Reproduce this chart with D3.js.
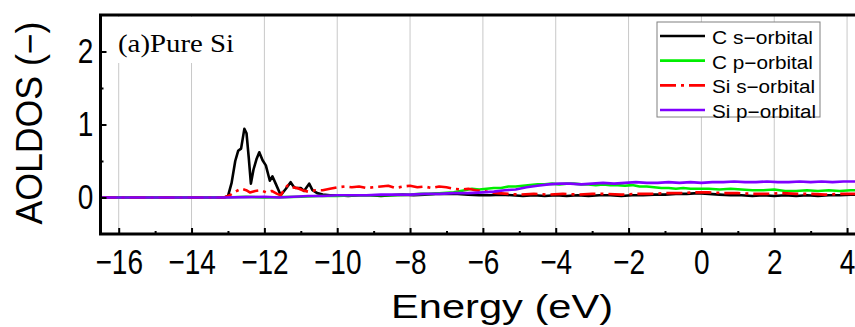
<!DOCTYPE html>
<html>
<head>
<meta charset="utf-8">
<script src="https://cdn.jsdelivr.net/npm/d3@7"></script>
<style>
  body { margin: 0; background: #fff; }
  svg { display: block; }
</style>
</head>
<body>
<svg id="chart" width="855" height="327"></svg>
<script>
// energy (eV) / AOLDOS pairs
let cS = [[-16.5,0],[-13.1,0],[-13.0,0.02],[-12.9,0.2],[-12.8,0.5],[-12.72,0.64],[-12.64,0.67],[-12.55,0.94],[-12.49,0.88],[-12.43,0.55],[-12.37,0.19],[-12.3,0.38],[-12.22,0.52],[-12.14,0.62],[-12.05,0.51],[-11.96,0.44],[-11.85,0.23],[-11.78,0.29],[-11.69,0.19],[-11.55,0.03],[-11.41,0.12],[-11.28,0.21],[-11.2,0.15],[-11.14,0.13],[-11.0,0.13],[-10.91,0.09],[-10.77,0.19],[-10.68,0.1],[-10.55,0.06],[-10.4,0.04],[-10.2,0.03],[-10,0.03],[-9.7,0.02],[-9.4,0.03],[-9.1,0.03],[-8.8,0.02],[-8.5,0.03],[-8.2,0.04],[-7.9,0.03],[-7.6,0.04],[-7.3,0.05],[-7.0,0.05],[-6.7,0.05],[-6.4,0.04],[-6.1,0.03],[-5.8,0.03],[-5.5,0.04],[-5.2,0.03],[-4.9,0.02],[-4.6,0.03],[-4.3,0.02],[-4.0,0.03],[-3.7,0.02],[-3.4,0.03],[-3.1,0.02],[-2.8,0.03],[-2.5,0.03],[-2.2,0.02],[-1.9,0.03],[-1.6,0.03],[-1.3,0.04],[-1.0,0.04],[-0.7,0.05],[-0.4,0.05],[-0.1,0.06],[0.2,0.05],[0.5,0.04],[0.8,0.03],[1.1,0.03],[1.4,0.02],[1.7,0.03],[2.0,0.02],[2.3,0.03],[2.6,0.02],[2.9,0.03],[3.2,0.02],[3.5,0.03],[3.8,0.03],[4.1,0.04],[4.3,0.04]];
let cP = [[-16.5,0],[-13.1,0],[-12.5,0.01],[-12,0.0],[-11.5,0.005],[-11,0.01],[-10.5,0.02],[-10,0.02],[-9.5,0.03],[-9,0.03],[-8.5,0.03],[-8,0.04],[-7.7,0.05],[-7.4,0.05],[-7.1,0.06],[-6.8,0.07],[-6.5,0.1],[-6.3,0.12],[-6.1,0.11],[-5.9,0.12],[-5.7,0.13],[-5.5,0.13],[-5.3,0.15],[-5.1,0.15],[-4.9,0.16],[-4.7,0.17],[-4.5,0.18],[-4.3,0.18],[-4.1,0.19],[-3.9,0.18],[-3.7,0.19],[-3.5,0.19],[-3.3,0.18],[-3.1,0.18],[-2.9,0.17],[-2.7,0.18],[-2.5,0.17],[-2.3,0.17],[-2.1,0.16],[-1.9,0.17],[-1.7,0.15],[-1.5,0.15],[-1.3,0.14],[-1.1,0.13],[-0.9,0.13],[-0.7,0.12],[-0.5,0.13],[-0.3,0.12],[-0.1,0.12],[0.2,0.12],[0.5,0.11],[0.8,0.12],[1.1,0.11],[1.4,0.1],[1.7,0.1],[2.0,0.11],[2.3,0.09],[2.6,0.09],[2.9,0.1],[3.2,0.09],[3.5,0.1],[3.8,0.09],[4.1,0.1],[4.3,0.1]];
let siS = [[-16.5,0],[-13.1,0],[-12.95,0.03],[-12.8,0.08],[-12.64,0.12],[-12.5,0.1],[-12.4,0.07],[-12.25,0.09],[-12.1,0.1],[-11.95,0.07],[-11.8,0.09],[-11.65,0.05],[-11.55,0.03],[-11.45,0.12],[-11.35,0.17],[-11.25,0.14],[-11.1,0.13],[-10.95,0.1],[-10.8,0.08],[-10.6,0.1],[-10.4,0.1],[-10.2,0.12],[-10.0,0.14],[-9.8,0.15],[-9.6,0.14],[-9.4,0.15],[-9.2,0.13],[-9.0,0.14],[-8.8,0.15],[-8.6,0.16],[-8.4,0.13],[-8.2,0.15],[-8.0,0.16],[-7.8,0.14],[-7.6,0.15],[-7.4,0.13],[-7.2,0.15],[-7.0,0.14],[-6.8,0.12],[-6.6,0.11],[-6.4,0.12],[-6.2,0.1],[-6.0,0.09],[-5.8,0.07],[-5.6,0.06],[-5.3,0.05],[-5.0,0.04],[-4.6,0.05],[-4.2,0.04],[-3.8,0.05],[-3.4,0.04],[-3.0,0.05],[-2.6,0.05],[-2.2,0.04],[-1.8,0.05],[-1.4,0.05],[-1.0,0.06],[-0.6,0.06],[-0.2,0.07],[0.2,0.07],[0.6,0.06],[1.0,0.06],[1.4,0.05],[1.8,0.05],[2.2,0.06],[2.6,0.05],[3.0,0.05],[3.4,0.04],[3.8,0.05],[4.3,0.05]];
let siP = [[-16.5,0],[-13.1,0],[-12.5,0.005],[-12,0.01],[-11.6,0.0],[-11.2,0.01],[-10.8,0.02],[-10.4,0.02],[-10,0.03],[-9.6,0.03],[-9.2,0.03],[-8.8,0.04],[-8.4,0.04],[-8.0,0.04],[-7.6,0.05],[-7.2,0.05],[-6.8,0.06],[-6.4,0.06],[-6.0,0.07],[-5.7,0.08],[-5.4,0.1],[-5.1,0.11],[-4.8,0.14],[-4.5,0.16],[-4.2,0.18],[-3.9,0.19],[-3.6,0.19],[-3.3,0.18],[-3.0,0.19],[-2.7,0.2],[-2.4,0.19],[-2.1,0.2],[-1.8,0.21],[-1.5,0.2],[-1.2,0.2],[-0.9,0.21],[-0.6,0.2],[-0.3,0.21],[0.0,0.2],[0.3,0.21],[0.6,0.21],[0.9,0.22],[1.2,0.21],[1.5,0.21],[1.8,0.22],[2.1,0.21],[2.4,0.21],[2.7,0.22],[3.0,0.21],[3.3,0.22],[3.6,0.21],[3.9,0.22],[4.3,0.22]];

let seriesNames = ["C s\u2212orbital", "C p\u2212orbital", "Si s\u2212orbital", "Si p\u2212orbital"];
let seriesColors = ["#000000", "#00ee00", "#ff0000", "#7f00ff"];
let xMajorTicks = [-16, -14, -12, -10, -8, -6, -4, -2, 0, 2, 4];
let xMinorTicks = [-15, -13, -11, -9, -7, -5, -3, -1, 1, 3];
let yMajorTicks = [0, 1, 2];
let yMinorTicks = [0.5, 1.5];

let svg = d3.select("#chart");
let plotLeft = 100.5, plotRight = 858, plotTop = 15, plotBottom = 234;
let sansFont = "'Liberation Sans', Arial, sans-serif";

let x = d3.scaleLinear().domain([-16.5, 4.3]).range([plotLeft, plotRight]);
let y = d3.scaleLinear().domain([-0.5, 2.5]).range([plotBottom, plotTop]);

// grid
svg.append("g").selectAll("line")
    .data(xMajorTicks)
    .enter().append("line")
    .attr("x1", d => x(d)).attr("x2", d => x(d))
    .attr("y1", plotTop).attr("y2", plotBottom)
    .attr("stroke", "#c8c8c8").attr("stroke-width", 1);

// label box covers grid
svg.append("rect")
    .attr("x", 104).attr("y", 17).attr("width", 136).attr("height", 46)
    .attr("fill", "#fff");
svg.append("text")
    .attr("x", 118).attr("y", 52)
    .attr("font-family", "'Liberation Serif', 'Times New Roman', serif")
    .attr("font-size", 26)
    .attr("textLength", 116).attr("lengthAdjust", "spacingAndGlyphs")
    .text("(a)Pure Si");

// curves
let line = d3.line().x(d => x(d[0])).y(d => y(d[1]));
let allSeries = [cS, cP, siS, siP];
allSeries.forEach(function(s, i) {
    svg.append("path")
        .attr("d", line(s))
        .attr("fill", "none")
        .attr("stroke", seriesColors[i])
        .attr("stroke-width", 2.6)
        .attr("stroke-linejoin", "round")
        .attr("stroke-dasharray", i == 2 ? "16,5,3,5" : null);
});

// axes (inward ticks)
let xAxis = svg.append("g")
    .attr("transform", "translate(0," + plotBottom + ")")
    .call(d3.axisBottom(x).tickValues(xMajorTicks).tickSize(-6).tickPadding(15));
svg.append("g")
    .attr("transform", "translate(0," + plotBottom + ")")
    .call(d3.axisBottom(x).tickValues(xMinorTicks).tickSize(-3).tickFormat(""));
let yAxis = svg.append("g")
    .attr("transform", "translate(" + plotLeft + ",0)")
    .call(d3.axisLeft(y).tickValues(yMajorTicks).tickFormat(d3.format("d")).tickSize(-6).tickPadding(9));
svg.append("g")
    .attr("transform", "translate(" + plotLeft + ",0)")
    .call(d3.axisLeft(y).tickValues(yMinorTicks).tickSize(-3).tickFormat(""));

svg.selectAll(".domain").remove();
svg.selectAll(".tick line").attr("stroke", "#000").attr("stroke-width", 2);
[xAxis, yAxis].forEach(function(a) {
    a.selectAll("text")
        .attr("font-family", sansFont)
        .attr("font-size", 35)
        .attr("fill", "#000")
        .attr("transform", "scale(0.8,1)");
});

// frame
svg.append("path")
    .attr("d", "M" + plotRight + "," + plotTop + "H" + plotLeft + "V" + plotBottom + "H" + plotRight)
    .attr("fill", "none").attr("stroke", "#000").attr("stroke-width", 3);

// axis titles
svg.append("text")
    .attr("x", 502).attr("y", 318)
    .attr("text-anchor", "middle")
    .attr("font-family", sansFont)
    .attr("font-size", 33)
    .attr("textLength", 222).attr("lengthAdjust", "spacingAndGlyphs")
    .text("Energy (eV)");
svg.append("text")
    .attr("transform", "translate(42,123) rotate(-90)")
    .attr("text-anchor", "middle")
    .attr("font-family", sansFont)
    .attr("font-size", 36)
    .attr("textLength", 203).attr("lengthAdjust", "spacingAndGlyphs")
    .text("AOLDOS (\u2212)");

// legend
let legend = svg.append("g");
legend.append("rect")
    .attr("x", 657).attr("y", 22).attr("width", 163).attr("height", 95)
    .attr("fill", "#fff").attr("stroke", "#808080").attr("stroke-width", 1);
let rowY = d3.scalePoint().domain(seriesNames).range([36, 110]);
let rows = legend.selectAll(".row")
    .data(seriesNames)
    .enter().append("g")
    .attr("transform", d => "translate(0," + rowY(d) + ")");
rows.append("line")
    .attr("x1", 660).attr("x2", 705)
    .attr("stroke", (d, i) => seriesColors[i])
    .attr("stroke-width", 2.6)
    .attr("stroke-dasharray", (d, i) => i == 2 ? "16,5,3,5" : null);
rows.append("text")
    .attr("x", 712).attr("y", 8)
    .attr("font-family", sansFont)
    .attr("font-size", 18)
    .attr("textLength", (d, i) => [101, 101, 103, 104][i])
    .attr("lengthAdjust", "spacingAndGlyphs")
    .text(d => d);
</script>
</body>
</html>
